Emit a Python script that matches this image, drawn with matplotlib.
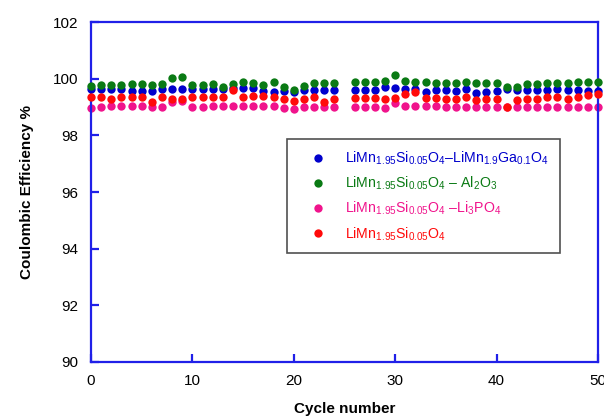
import numpy as np
from matplotlib import pyplot as plt
from matplotlib.lines import Line2D

plt.rcParams['font.family'] = ['Liberation Sans', 'DejaVu Sans']
plt.rcParams['mathtext.fontset'] = 'custom'
plt.rcParams['mathtext.rm'] = 'Liberation Sans'
plt.rcParams['mathtext.it'] = 'Liberation Sans'

cycles = [0, 1, 2, 3, 4, 5, 6, 7, 8, 9, 10, 11, 12, 13, 14, 15, 16, 17, 18, 19,
          20, 21, 22, 23, 24, 26, 27, 28, 29, 30, 31, 32, 33, 34, 35, 36, 37, 38,
          39, 40, 41, 42, 43, 44, 45, 46, 47, 48, 49, 50]

ga_coated = [99.62, 99.62, 99.62, 99.62, 99.58, 99.58, 99.58, 99.62, 99.62, 99.62,
             99.62, 99.62, 99.62, 99.64, 99.66, 99.66, 99.66, 99.58, 99.54, 99.58,
             99.54, 99.60, 99.60, 99.60, 99.60, 99.60, 99.60, 99.60, 99.70, 99.66,
             99.64, 99.64, 99.54, 99.60, 99.60, 99.58, 99.64, 99.48, 99.52, 99.58,
             99.64, 99.60, 99.60, 99.60, 99.60, 99.64, 99.60, 99.60, 99.58, 99.58]
al2o3_coated = [99.75, 99.78, 99.78, 99.78, 99.80, 99.80, 99.78, 99.80, 100.03, 100.06,
                99.78, 99.78, 99.82, 99.72, 99.81, 99.87, 99.84, 99.78, 99.87, 99.72,
                99.60, 99.75, 99.84, 99.84, 99.84, 99.89, 99.87, 99.87, 99.92, 100.13,
                99.92, 99.89, 99.87, 99.84, 99.84, 99.84, 99.87, 99.84, 99.84, 99.84,
                99.72, 99.72, 99.81, 99.81, 99.84, 99.84, 99.84, 99.87, 99.87, 99.87]
li3po4_coated = [98.97, 99.00, 99.05, 99.05, 99.05, 99.05, 99.01, 99.01, 99.17, 99.20,
                 99.01, 99.01, 99.03, 99.05, 99.05, 99.05, 99.05, 99.05, 99.05, 98.97,
                 98.92, 99.01, 99.01, 99.01, 99.00, 99.01, 99.01, 99.01, 98.97, 99.13,
                 99.05, 99.05, 99.05, 99.05, 99.01, 99.01, 99.01, 99.01, 99.01, 99.01,
                 99.00, 99.01, 99.01, 99.01, 99.01, 99.01, 99.01, 99.01, 99.01, 99.01]
bare = [99.35, 99.35, 99.27, 99.35, 99.35, 99.35, 99.19, 99.35, 99.30, 99.30,
        99.35, 99.35, 99.36, 99.34, 99.60, 99.36, 99.40, 99.40, 99.34, 99.27,
        99.22, 99.30, 99.35, 99.17, 99.27, 99.33, 99.33, 99.33, 99.27, 99.33,
        99.46, 99.54, 99.33, 99.33, 99.27, 99.30, 99.35, 99.25, 99.30, 99.30,
        99.00, 99.25, 99.30, 99.30, 99.35, 99.35, 99.27, 99.35, 99.42, 99.46]

labels = [r'LiMn$_{1.95}$Si$_{0.05}$O$_{4}$–LiMn$_{1.9}$Ga$_{0.1}$O$_{4}$',
          r'LiMn$_{1.95}$Si$_{0.05}$O$_{4}$ – Al$_{2}$O$_{3}$',
          r'LiMn$_{1.95}$Si$_{0.05}$O$_{4}$ –Li$_{3}$PO$_{4}$',
          r'LiMn$_{1.95}$Si$_{0.05}$O$_{4}$']

BLUE = '#0000cc'
GREEN = '#0a7a14'
PINK = '#f0148c'
RED = '#ff0a0a'
AXIS = '#2020e8'

fig = plt.figure(figsize=(6.04, 4.17), dpi=100)
ax = fig.add_axes([0.1507, 0.1319, 0.8393, 0.8153])

ms = 6
ax.plot(cycles, li3po4_coated, 'o', color=PINK, ms=ms, mec='none', zorder=2, clip_on=False)
ax.plot(cycles, ga_coated, 'o', color=BLUE, ms=ms, mec='none', zorder=3, clip_on=False)
ax.plot(cycles, al2o3_coated, 'o', color=GREEN, ms=ms, mec='none', zorder=4, clip_on=False)
ax.plot(cycles, bare, 'o', color=RED, ms=ms, mec='none', zorder=5, clip_on=False)

ax.set_xlim(0, 50)
ax.set_ylim(90, 102)
ax.set_xticks(np.arange(0, 51, 10))
ax.set_yticks(np.arange(90, 103, 2))

for s in ax.spines.values():
    s.set_color(AXIS)
    s.set_linewidth(1.6)
ax.tick_params(direction='in', length=6, width=1.6, color=AXIS, labelsize=11,
               top=False, right=False, pad=9)

ax.set_xlabel('Cycle number', fontsize=11, fontweight='bold', labelpad=10)
ax.set_ylabel('Coulombic Efficiency %', fontsize=11, fontweight='bold', labelpad=14)

# legend built by hand so the marker sits well inside the box
handles = [Line2D([], [], marker='o', ls='none', color=c, ms=ms, mec='none')
           for c in [BLUE, GREEN, PINK, RED]]
leg = ax.legend(handles, labels, loc='upper left', bbox_to_anchor=(0.387, 0.656),
                borderaxespad=0, fancybox=False, framealpha=1, edgecolor='#505050',
                fontsize=10.2, labelcolor='linecolor', handlelength=2.88,
                handletextpad=0.45, borderpad=0.75, labelspacing=0.55)
leg.get_frame().set_linewidth(1.2)

fig.savefig('out.png', dpi=100)
